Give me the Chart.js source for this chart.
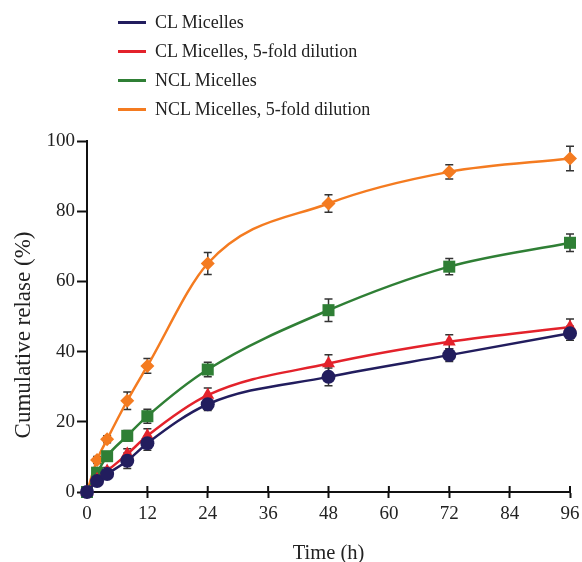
<!DOCTYPE html>
<html>
<head>
<meta charset="utf-8">
<script src="https://cdn.jsdelivr.net/npm/chart.js@4.4.1/dist/chart.umd.min.js"></script>
<style>
  body { margin: 0; background: #fff; }
  #wrap { position: relative; width: 582px; height: 562px; }
  #legend { position: absolute; left: 118px; top: 8px; font-family: "Liberation Serif", serif; font-size: 18px; color: #222; }
  .row { height: 29px; line-height: 29px; white-space: nowrap; }
  .row span.ln { display: inline-block; width: 28px; height: 3px; vertical-align: middle; margin-right: 9px; position: relative; top: -1px; }
</style>
</head>
<body>
<div id="wrap">
  <canvas id="grafico" width="582" height="562"></canvas>
  <div id="legend"></div>
</div>
<script>
// dados
const tempos = [0, 2, 4, 8, 12, 24, 48, 72, 96];
const xTicks = [0, 12, 24, 36, 48, 60, 72, 84, 96];
const yTicks = [0, 20, 40, 60, 80, 100];

const rotulos = ['CL Micelles', 'CL Micelles, 5-fold dilution', 'NCL Micelles', 'NCL Micelles, 5-fold dilution'];
const tituloY = 'Cumulative relase (%)';
const tituloX = 'Time (h)';

const clMicelas = [0, 3.1, 5.1, 8.9, 13.9, 25, 32.8, 39, 45.2];
const clDiluicao = [0, 3.6, 6, 10.8, 16, 27.6, 36.6, 42.8, 47];
const nclMicelas = [0, 5.5, 10.2, 16, 21.6, 34.9, 51.8, 64.2, 71];
const nclDiluicao = [0, 9.1, 15, 26, 35.9, 65.1, 82.2, 91.2, 95];

const erroCL = [0, 1, 1, 2.2, 2, 1.8, 2.5, 1.8, 2];
const erroCLDil = [0, 1, 1, 1.5, 2, 2, 2.5, 2, 2.3];
const erroNCL = [0, 1, 1, 1.5, 2, 2.1, 3.2, 2.3, 2.5];
const erroNCLDil = [0, 1, 1, 2.5, 2.1, 3.1, 2.5, 2, 3.5];

const cores = ['#221d5e', '#e3222b', '#2f7f35', '#f47b20'];
const estilos = ['circle', 'triangle', 'rect', 'rectRot'];
const raios = [7, 7.5, 8.5, 7];

const series = [clMicelas, clDiluicao, nclMicelas, nclDiluicao];
const erros = [erroCL, erroCLDil, erroNCL, erroNCLDil];

const fonte = "'Liberation Serif', 'Times New Roman', serif";

// Plugin para barras de erro, marcas do eixo X e título do eixo Y
const barrasErro = {
    id: 'barrasErro',
    beforeDatasetsDraw(chart) {
        const ctx = chart.ctx;
        const x = chart.scales.x;
        const y = chart.scales.y;
        ctx.save();
        ctx.strokeStyle = '#333';
        ctx.lineWidth = 1.5;
        chart.data.datasets.forEach((ds, i) => {
            ds.data.forEach((p, j) => {
                const e = erros[i][j];
                if (!e) return;
                const px = x.getPixelForValue(p.x);
                const top = y.getPixelForValue(p.y + e);
                const bot = y.getPixelForValue(p.y - e);
                ctx.beginPath();
                ctx.moveTo(px, top); ctx.lineTo(px, bot);
                ctx.moveTo(px - 4, top); ctx.lineTo(px + 4, top);
                ctx.moveTo(px - 4, bot); ctx.lineTo(px + 4, bot);
                ctx.stroke();
            });
        });
        ctx.restore();
    },
    afterDraw(chart) {
        const ctx = chart.ctx;
        const x = chart.scales.x;
        const base = chart.chartArea.bottom;
        ctx.save();
        ctx.strokeStyle = '#111';
        ctx.lineWidth = 2;
        xTicks.forEach(t => {
            if (t === 0) return;
            const px = x.getPixelForValue(t);
            ctx.beginPath();
            ctx.moveTo(px, base);
            ctx.lineTo(px, base - 6);
            ctx.stroke();
        });
        // título do eixo Y (um pouco abaixo do centro, como no original)
        ctx.translate(24, 335);
        ctx.rotate(-Math.PI / 2);
        ctx.fillStyle = '#222';
        ctx.font = '23px ' + fonte;
        ctx.textAlign = 'center';
        ctx.textBaseline = 'middle';
        ctx.fillText(tituloY, 0, 0);
        ctx.restore();
    }
};

const datasets = series.map((s, i) => ({
    label: rotulos[i],
    data: tempos.map((t, j) => ({ x: t, y: s[j] })),
    borderColor: cores[i],
    backgroundColor: cores[i],
    borderWidth: 2.5,
    pointStyle: estilos[i],
    pointRadius: raios[i],
    pointBorderWidth: 0,
    cubicInterpolationMode: 'monotone',
    tension: 0.4,
    clip: false
}));

// legenda em HTML
const legenda = document.getElementById('legend');
datasets.forEach(ds => {
    const row = document.createElement('div');
    row.className = 'row';
    row.innerHTML = `<span class="ln" style="background:${ds.borderColor}"></span>${ds.label}`;
    legenda.appendChild(row);
});

new Chart(document.getElementById('grafico').getContext('2d'), {
    type: 'line',
    data: { datasets: datasets },
    options: {
        responsive: false,
        animation: false,
        layout: { padding: { top: 141, right: 12, left: 0, bottom: 0 } },
        plugins: {
            legend: { display: false },
            tooltip: { enabled: false }
        },
        scales: {
            x: {
                type: 'linear',
                min: 0,
                max: 96,
                afterFit: s => { s.height = 70; s.paddingRight = 0; s.paddingLeft = 0; },
                afterBuildTicks: s => { s.ticks = xTicks.map(v => ({ value: v })); },
                grid: { drawOnChartArea: false, drawTicks: true, tickLength: 6, tickWidth: 2, color: '#111' },
                border: { color: '#111', width: 2 },
                ticks: { color: '#222', font: { family: fonte, size: 19 }, padding: 5, maxRotation: 0 },
                title: { display: true, text: tituloX, color: '#222', font: { family: fonte, size: 20.5 }, padding: { top: 0, bottom: -4 } }
            },
            y: {
                min: 0,
                max: 100,
                afterFit: s => { s.width = 87; },
                afterBuildTicks: s => { s.ticks = yTicks.map(v => ({ value: v })); },
                grid: { drawOnChartArea: false, drawTicks: true, tickLength: 10, tickWidth: 2, color: '#111' },
                border: { color: '#111', width: 2 },
                ticks: { color: '#222', font: { family: fonte, size: 19 }, padding: 2 }
            }
        }
    },
    plugins: [barrasErro]
});
</script>
</body>
</html>
